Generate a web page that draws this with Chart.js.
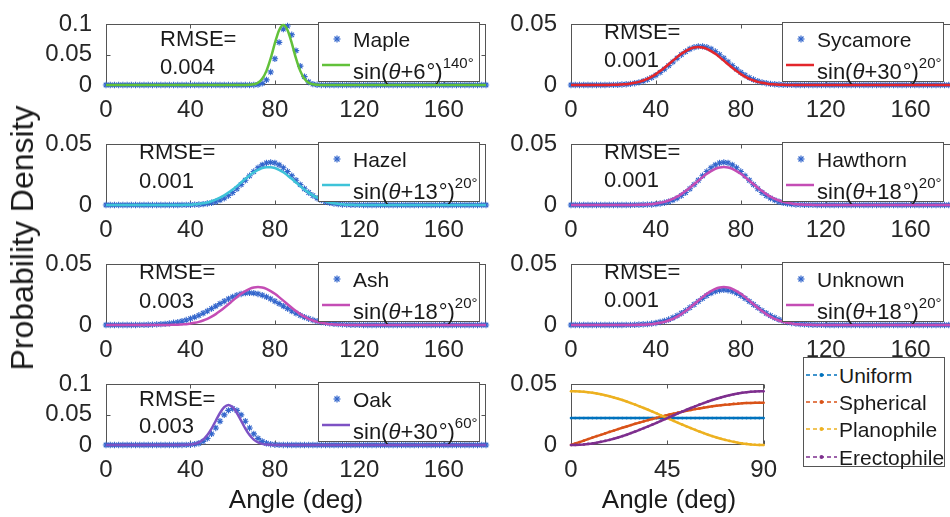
<!DOCTYPE html>
<html><head><meta charset="utf-8">
<script src="https://cdn.jsdelivr.net/npm/chart.js@4/dist/chart.umd.min.js"></script>
<style>
html,body{margin:0;padding:0;background:#fff;width:950px;height:517px;overflow:hidden;position:relative;font-family:"Liberation Sans",Arial,Helvetica,sans-serif;color:#1a1a1a;}
.pane{position:absolute;}
.leg{position:absolute;border:1px solid #555;background:#fff;box-sizing:border-box;}
.txt{position:absolute;white-space:nowrap;line-height:1;}
.sup{font-size:15px;position:relative;top:-11px;margin-left:0;}
.deg{margin-left:1px;}
</style></head><body>
<script>
// ---------------- DATA ----------------
const ANGLES = [0,2,4,6,8,10,12,14,16,18,20,22,24,26,28,30,32,34,36,38,40,42,44,46,48,50,52,54,56,58,
 60,62,64,66,68,70,72,74,76,78,80,82,84,86,88,90,92,94,96,98,100,102,104,106,108,110,112,114,116,118,
 120,122,124,126,128,130,132,134,136,138,140,142,144,146,148,150,152,154,156,158,160,162,164,166,168,170,172,174,176,178,180];
const ANGLES_90 = [0,2,4,6,8,10,12,14,16,18,20,22,24,26,28,30,32,34,36,38,40,42,44,46,48,50,52,54,56,58,
 60,62,64,66,68,70,72,74,76,78,80,82,84,86,88,90];
const X_TICKS = [0,40,80,120,160];
const X_TICKS_90 = [0,45,90];
const Y_TICKS_01 = [0,0.05,0.1];
const Y_TICKS_005 = [0,0.05];

const MAPLE_OBS = [0,0,0,0,0,0,0,0,0,0, 0,0,0,0,0,0,0,0,0,0, 0,0,0,0,0,0,0,0,0,0,
 0,0,0,0,0,.0001,.0007,.0027,.0085,.0214, .0433,.0704,.0922,.0973,.0828,.0567,.0312,.0139,.0050,.0014,
 .0003,.0001,0,0,0,0,0,0,0,0, 0,0,0,0,0,0,0,0,0,0, 0,0,0,0,0,0,0,0,0,0, 0,0,0,0,0,0,0,0,0,0, 0];
const MAPLE_FIT = [0,0,0,0,0,0,0,0,0,0, 0,0,0,0,0,0,0,0,0,0, 0,0,0,0,0,0,0,0,0,0,
 0,0,0,.0001,.0003,.0012,.0038,.0103,.0233,.0438, .0690,.0904,.0990,.0904,.0690,.0438,.0233,.0103,.0038,.0012,
 .0003,.0001,0,0,0,0,0,0,0,0, 0,0,0,0,0,0,0,0,0,0, 0,0,0,0,0,0,0,0,0,0, 0,0,0,0,0,0,0,0,0,0, 0];

const SYCAMORE_OBS = [0,0,0,0,0,0,0,0,0,.0001, .0001,.0002,.0004,.0006,.0009,.0015,.0022,.0032,.0045,.0061,
 .0081,.0104,.0131,.0160,.0190,.0221,.0250,.0276,.0297,.0311, .0319,.0319,.0311,.0297,.0276,.0250,.0221,.0190,.0160,.0131,
 .0104,.0081,.0061,.0045,.0032,.0022,.0015,.0009,.0006,.0004, .0002,.0001,.0001,0,0,0,0,0,0,0,
 0,0,0,0,0,0,0,0,0,0, 0,0,0,0,0,0,0,0,0,0, 0,0,0,0,0,0,0,0,0,0, 0];
const SYCAMORE_FIT = [0,0,0,0,0,0,0,0,0,.0001, .0002,.0003,.0005,.0007,.0012,.0018,.0026,.0037,.0051,.0069,
 .0090,.0115,.0142,.0171,.0201,.0230,.0257,.0280,.0298,.0309, .0313,.0309,.0298,.0280,.0257,.0230,.0201,.0171,.0142,.0115,
 .0090,.0069,.0051,.0037,.0026,.0018,.0012,.0007,.0005,.0003, .0002,.0001,0,0,0,0,0,0,0,0,
 0,0,0,0,0,0,0,0,0,0, 0,0,0,0,0,0,0,0,0,0, 0,0,0,0,0,0,0,0,0,0, 0];

const HAZEL_OBS = [0,0,0,0,0,0,0,0,0,0, 0,0,0,0,0,0,0,0,.0001,.0001,
 .0002,.0003,.0004,.0007,.0012,.0018,.0027,.0040,.0056,.0078, .0103,.0134,.0168,.0204,.0241,.0276,.0307,.0331,.0347,.0352,
 .0347,.0331,.0307,.0276,.0241,.0204,.0168,.0134,.0103,.0078, .0056,.0040,.0027,.0018,.0012,.0007,.0004,.0003,.0002,.0001,
 .0001,0,0,0,0,0,0,0,0,0, 0,0,0,0,0,0,0,0,0,0, 0,0,0,0,0,0,0,0,0,0, 0];
const HAZEL_FIT = [0,0,0,0,0,0,0,0,0,0, 0,0,0,0,0,0,0,.0001,.0001,.0002,
 .0003,.0006,.0009,.0014,.0021,.0031,.0044,.0060,.0079,.0102, .0128,.0156,.0186,.0216,.0244,.0270,.0290,.0305,.0312,.0312,
 .0305,.0290,.0270,.0244,.0216,.0186,.0156,.0128,.0102,.0079, .0060,.0044,.0031,.0021,.0014,.0009,.0006,.0003,.0002,.0001,
 .0001,0,0,0,0,0,0,0,0,0, 0,0,0,0,0,0,0,0,0,0, 0,0,0,0,0,0,0,0,0,0, 0];

const HAWTHORN_OBS = [0,0,0,0,0,0,0,0,0,0, 0,0,0,0,0,.0001,.0001,.0002,.0003,.0004,
 .0007,.0012,.0018,.0027,.0040,.0056,.0078,.0103,.0134,.0168, .0204,.0241,.0276,.0307,.0331,.0347,.0352,.0347,.0331,.0307,
 .0276,.0241,.0204,.0168,.0134,.0103,.0078,.0056,.0040,.0027, .0018,.0012,.0007,.0004,.0003,.0002,.0001,.0001,0,0,
 0,0,0,0,0,0,0,0,0,0, 0,0,0,0,0,0,0,0,0,0, 0,0,0,0,0,0,0,0,0,0, 0];
// sin(theta+18deg)^20, shared by Hawthorn, Ash and Unknown
const FIT_18_20 = [0,0,0,0,0,0,0,0,0,0, 0,0,0,0,0,.0001,.0002,.0003,.0005,.0007,
 .0012,.0018,.0026,.0037,.0051,.0069,.0090,.0115,.0142,.0171, .0201,.0230,.0257,.0280,.0298,.0309,.0313,.0309,.0298,.0280,
 .0257,.0230,.0201,.0171,.0142,.0115,.0090,.0069,.0051,.0037, .0026,.0018,.0012,.0007,.0005,.0003,.0002,.0001,0,0,
 0,0,0,0,0,0,0,0,0,0, 0,0,0,0,0,0,0,0,0,0, 0,0,0,0,0,0,0,0,0,0, 0];

const ASH_OBS = [0,0,0,0,0,0,0,0,.0001,.0001, .0002,.0003,.0005,.0007,.0009,.0013,.0018,.0024,.0031,.0041,
 .0052,.0065,.0080,.0097,.0115,.0135,.0156,.0176,.0196,.0215, .0232,.0246,.0256,.0263,.0265,.0263,.0256,.0246,.0232,.0215,
 .0196,.0176,.0156,.0135,.0115,.0097,.0080,.0065,.0052,.0041, .0031,.0024,.0018,.0013,.0009,.0007,.0005,.0003,.0002,.0001,
 .0001,0,0,0,0,0,0,0,0,0, 0,0,0,0,0,0,0,0,0,0, 0,0,0,0,0,0,0,0,0,0, 0];

const UNKNOWN_OBS = [0,0,0,0,0,0,0,0,0,0, 0,0,0,.0001,.0001,.0002,.0004,.0006,.0008,.0012,
 .0017,.0025,.0034,.0045,.0060,.0077,.0097,.0119,.0144,.0169, .0195,.0220,.0243,.0263,.0278,.0287,.0290,.0287,.0278,.0263,
 .0243,.0220,.0195,.0169,.0144,.0119,.0097,.0077,.0060,.0045, .0034,.0025,.0017,.0012,.0008,.0006,.0004,.0002,.0001,.0001,
 0,0,0,0,0,0,0,0,0,0, 0,0,0,0,0,0,0,0,0,0, 0,0,0,0,0,0,0,0,0,0, 0];

const OAK_OBS = [0,0,0,0,0,0,0,0,0,0, 0,0,0,0,0,0,0,0,.0001,.0002,
 .0005,.0013,.0029,.0059,.0109,.0184,.0281,.0392,.0497,.0572, .0600,.0572,.0497,.0392,.0281,.0184,.0109,.0059,.0029,.0013,
 .0005,.0002,.0001,0,0,0,0,0,0,0, 0,0,0,0,0,0,0,0,0,0,
 0,0,0,0,0,0,0,0,0,0, 0,0,0,0,0,0,0,0,0,0, 0,0,0,0,0,0,0,0,0,0, 0];
const OAK_FIT = [0,0,0,0,0,0,0,0,0,0, 0,0,0,0,0,0,0,0,.0001,.0003,
 .0007,.0019,.0043,.0089,.0165,.0271,.0400,.0528,.0624,.0660, .0624,.0528,.0400,.0271,.0165,.0089,.0043,.0019,.0007,.0003,
 .0001,0,0,0,0,0,0,0,0,0, 0,0,0,0,0,0,0,0,0,0,
 0,0,0,0,0,0,0,0,0,0, 0,0,0,0,0,0,0,0,0,0, 0,0,0,0,0,0,0,0,0,0, 0];

const MODEL_NAMES = ['Uniform','Spherical','Planophile','Erectophile'];
const UNIFORM = [.0222,.0222,.0222,.0222,.0222,.0222,.0222,.0222,.0222,.0222,.0222,.0222,.0222,.0222,.0222,.0222,
 .0222,.0222,.0222,.0222,.0222,.0222,.0222,.0222,.0222,.0222,.0222,.0222,.0222,.0222,.0222,.0222,.0222,.0222,.0222,.0222,
 .0222,.0222,.0222,.0222,.0222,.0222,.0222,.0222,.0222,.0222];
const SPHERICAL = [0,.0012,.0024,.0036,.0049,.0061,.0073,.0084,.0096,.0108,.0119,.0131,.0142,.0153,.0164,.0175,
 .0185,.0195,.0205,.0215,.0224,.0234,.0242,.0251,.0259,.0267,.0275,.0282,.0289,.0296,.0302,.0308,.0314,.0319,.0324,.0328,
 .0332,.0335,.0339,.0341,.0344,.0346,.0347,.0348,.0349,.0349];
const PLANOPHILE = [.0444,.0443,.0442,.0439,.0435,.0431,.0425,.0418,.0410,.0402,.0392,.0382,.0371,.0359,.0346,.0333,
 .0319,.0305,.0291,.0276,.0261,.0245,.0230,.0214,.0199,.0183,.0168,.0153,.0139,.0125,.0111,.0098,.0085,.0073,.0062,.0052,
 .0042,.0034,.0026,.0019,.0013,.0009,.0005,.0002,.0001,0];
const ERECTOPHILE = [0,.0001,.0002,.0005,.0009,.0013,.0019,.0026,.0034,.0042,.0052,.0062,.0073,.0085,.0098,.0111,
 .0125,.0139,.0153,.0168,.0183,.0199,.0214,.0230,.0245,.0261,.0276,.0291,.0305,.0319,.0333,.0346,.0359,.0371,.0382,.0392,
 .0402,.0410,.0418,.0425,.0431,.0435,.0439,.0442,.0443,.0444];

// ---------------- LAYOUT / STYLE ----------------
const FONT = '"Liberation Sans", Arial, Helvetica, sans-serif';
const STAR = '#3366cc';
const COL_X = [106, 571], COL_W = [380, 382], ROW_Y = [16, 136, 256, 376], PH = 69;
const PANELS = [
 {name:'Maple', obs:MAPLE_OBS, fit:MAPLE_FIT, color:'#62c13a', c:0, r:0, yMax:0.1, yT:Y_TICKS_01, rmse:'0.004', off:'6', pw:'140', rx:160, rdy:[23,51]},
 {name:'Sycamore', obs:SYCAMORE_OBS, fit:SYCAMORE_FIT, color:'#e3262b', c:1, r:0, yMax:0.05, yT:Y_TICKS_005, rmse:'0.001', off:'30', pw:'20', rx:604, rdy:[16,44]},
 {name:'Hazel', obs:HAZEL_OBS, fit:HAZEL_FIT, color:'#3ec3d8', c:0, r:1, yMax:0.05, yT:Y_TICKS_005, rmse:'0.001', off:'13', pw:'20', rx:139, rdy:[16,45]},
 {name:'Hawthorn', obs:HAWTHORN_OBS, fit:FIT_18_20, color:'#c44db5', c:1, r:1, yMax:0.05, yT:Y_TICKS_005, rmse:'0.001', off:'18', pw:'20', rx:604, rdy:[16,44]},
 {name:'Ash', obs:ASH_OBS, fit:FIT_18_20, color:'#c44db5', c:0, r:2, yMax:0.05, yT:Y_TICKS_005, rmse:'0.003', off:'18', pw:'20', rx:139, rdy:[16,45]},
 {name:'Unknown', obs:UNKNOWN_OBS, fit:FIT_18_20, color:'#c44db5', c:1, r:2, yMax:0.05, yT:Y_TICKS_005, rmse:'0.001', off:'18', pw:'20', rx:604, rdy:[16,44]},
 {name:'Oak', obs:OAK_OBS, fit:OAK_FIT, color:'#7d52c4', c:0, r:3, yMax:0.1, yT:Y_TICKS_01, rmse:'0.003', off:'30', pw:'60', rx:139, rdy:[23,50]}
];
const MODEL_COLORS = ['#0072BD','#D95319','#EDB120','#7E2F8E'];
const MODEL_DATA = [UNIFORM, SPHERICAL, PLANOPHILE, ERECTOPHILE];

const boxPlugin = {
  id:'boxTicks',
  beforeDatasetsDraw(chart){
    const {ctx, chartArea:a, scales:{x,y}} = chart;
    ctx.save();
    ctx.strokeStyle = '#555'; ctx.lineWidth = 1;
    const L = Math.round(a.left)+0.5, R = Math.round(a.right)-0.5, T = Math.round(a.top)+0.5, B = Math.round(a.bottom)-0.5;
    ctx.strokeRect(L, T, R-L, B-T);
    ctx.beginPath();
    x.ticks.forEach(t => { const p = Math.round(x.getPixelForValue(t.value))+0.5;
      ctx.moveTo(p,B); ctx.lineTo(p,B-4); ctx.moveTo(p,T); ctx.lineTo(p,T+4); });
    y.ticks.forEach(t => { const p = Math.round(y.getPixelForValue(t.value))+0.5;
      ctx.moveTo(L,p); ctx.lineTo(L+4,p); ctx.moveTo(R,p); ctx.lineTo(R-4,p); });
    ctx.stroke(); ctx.restore();
  }
};

function pts(xs, ys){ return xs.map((v,i)=>({x:v, y:ys[i]})); }

function makeChart(px, py, pw, ph, datasets, xTicks, xMax, yTicks, yMax){
  const ML=70, MT=12, MR=12, MB=40;
  const wrap = document.createElement('div'); wrap.className='pane';
  wrap.style.left=(px-ML)+'px'; wrap.style.top=(py-MT)+'px';
  const cv = document.createElement('canvas');
  cv.width = pw+ML+MR; cv.height = ph+MT+MB;
  cv.style.width = cv.width+'px'; cv.style.height = cv.height+'px';
  wrap.appendChild(cv); document.body.appendChild(wrap);
  const tickFont = {family:FONT, size:24};
  new Chart(cv, {
    type:'scatter',
    data:{datasets},
    options:{
      responsive:false, animation:false, devicePixelRatio:1,
      layout:{padding:{left:0, top:MT, right:MR, bottom:0}, autoPadding:false},
      plugins:{legend:{display:false}, tooltip:{enabled:false}},
      scales:{
        x:{type:'linear', min:0, max:xMax, grid:{display:false}, border:{display:false},
           afterBuildTicks:s=>{ s.ticks = xTicks.map(v=>({value:v})); },
           afterFit:s=>{ s.height = MB; },
           ticks:{padding:3, font:tickFont, color:'#262626', maxRotation:0, autoSkip:false, callback:v=>String(v)}},
        y:{type:'linear', min:0, max:yMax, grid:{display:false}, border:{display:false},
           afterBuildTicks:s=>{ s.ticks = yTicks.map(v=>({value:v})); },
           afterFit:s=>{ s.width = ML; },
           ticks:{padding:6, font:tickFont, color:'#262626', autoSkip:false, callback:v=>String(v)}}
      }
    },
    plugins:[boxPlugin]
  });
}

function addText(html, left, cy, size, extra){
  const s = document.createElement('span'); s.className='txt';
  s.style.left = left+'px'; s.style.top = (cy - 0.49*size)+'px'; s.style.fontSize = size+'px';
  if (extra) s.style.cssText += extra;
  s.innerHTML = html; document.body.appendChild(s); return s;
}

function starSvg(cx, cy){
  const r = 3.5, d = 2.5;
  return `<g stroke="${STAR}" stroke-width="1.2"><line x1="${cx-r}" y1="${cy}" x2="${cx+r}" y2="${cy}"/><line x1="${cx}" y1="${cy-r}" x2="${cx}" y2="${cy+r}"/><line x1="${cx-d}" y1="${cy-d}" x2="${cx+d}" y2="${cy+d}"/><line x1="${cx-d}" y1="${cy+d}" x2="${cx+d}" y2="${cy-d}"/></g>`;
}

// species panels
PANELS.forEach(p => {
  const px = COL_X[p.c], py = ROW_Y[p.r], pw = COL_W[p.c];
  makeChart(px, py, pw, PH, [
    {label:'fit', data:pts(ANGLES, p.fit), showLine:true, borderColor:p.color, borderWidth:2.5, pointRadius:0, order:0, clip:false, cubicInterpolationMode:'monotone'},
    {label:p.name, data:pts(ANGLES, p.obs), showLine:false, pointStyle:'star', pointRadius:3.2, borderWidth:1.1, borderColor:STAR, backgroundColor:STAR, order:1, clip:false}
  ], X_TICKS, 180, p.yT, p.yMax);
  // RMSE annotation
  addText('RMSE=', p.rx, py + p.rdy[0], 22);
  addText(p.rmse, p.rx, py + p.rdy[1], 22);
  // legend
  const lx = p.c===0 ? 318 : 782, ly = py + 6;
  const leg = document.createElement('div'); leg.className='leg';
  leg.style.left=lx+'px'; leg.style.top=ly+'px'; leg.style.width='162px'; leg.style.height='60px';
  leg.innerHTML = `<svg width="160" height="58" style="position:absolute;left:0;top:0">${starSvg(18,16)}<line x1="3" y1="42" x2="31" y2="42" stroke="${p.color}" stroke-width="2.5"/></svg>`
   + `<span class="txt" style="left:34px;top:${16-0.49*21}px;font-size:21px">${p.name}</span>`
   + `<span class="txt" style="left:34px;top:${49-0.49*22}px;font-size:22px">sin(<i>θ</i>+${p.off}<span class="deg">°</span>)<span class="sup">${p.pw}°</span></span>`;
  document.body.appendChild(leg);
});

// model panel
makeChart(571, ROW_Y[3], 197, PH, MODEL_NAMES.map((n,i)=>({
  label:n, data:pts(ANGLES_90, MODEL_DATA[i]), showLine:true, borderColor:MODEL_COLORS[i], backgroundColor:MODEL_COLORS[i],
  borderWidth:2.5, pointRadius:1.3, pointBorderWidth:0, order:3-i, clip:false
})), X_TICKS_90, 90, Y_TICKS_005, 0.05);

// model legend
(function(){
  const leg = document.createElement('div'); leg.className='leg';
  leg.style.left='803px'; leg.style.top='357px'; leg.style.width='142px'; leg.style.height='110px';
  const ys = [17, 44, 71, 99];
  let svg = '<svg width="140" height="108" style="position:absolute;left:0;top:0">';
  let txt = '';
  MODEL_NAMES.forEach((n,i)=>{
    svg += `<line x1="2" y1="${ys[i]}" x2="33" y2="${ys[i]}" stroke="${MODEL_COLORS[i]}" stroke-width="1.5" stroke-dasharray="4,3"/><circle cx="17.5" cy="${ys[i]}" r="2" fill="${MODEL_COLORS[i]}"/>`;
    txt += `<span class="txt" style="left:35px;top:${ys[i]-0.49*21}px;font-size:21px">${n}</span>`;
  });
  leg.innerHTML = svg + '</svg>' + txt;
  document.body.appendChild(leg);
})();

// axis titles
addText('Angle (deg)', 296, 499, 26, 'transform:translateX(-50%);');
addText('Angle (deg)', 669, 499, 26, 'transform:translateX(-50%);');
const yl = document.createElement('div'); yl.className='txt';
yl.style.cssText += 'left:22px;top:238px;font-size:32px;transform:translate(-50%,-50%) rotate(-90deg);';
yl.textContent = 'Probability Density';
document.body.appendChild(yl);
</script>
</body></html>
